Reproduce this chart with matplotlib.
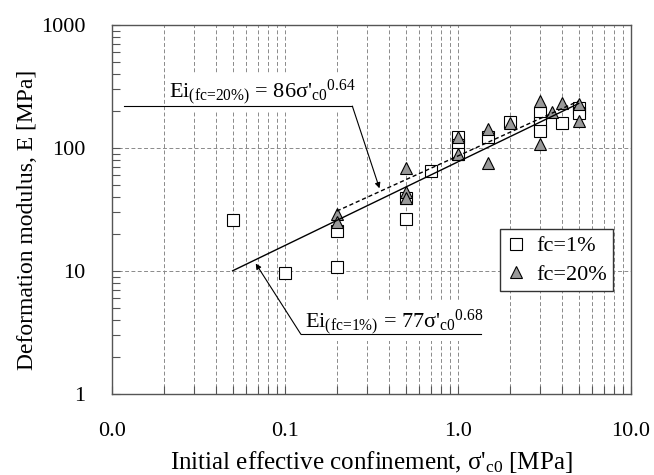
import numpy as np
import matplotlib
matplotlib.use('Agg')
import matplotlib.pyplot as plt
from matplotlib.ticker import LogLocator, NullFormatter, FixedLocator, FixedFormatter

plt.rcParams['font.family'] = ['Liberation Serif', 'DejaVu Serif']
plt.rcParams['mathtext.fontset'] = 'custom'
plt.rcParams['mathtext.rm'] = 'Liberation Serif'
plt.rcParams['mathtext.it'] = 'Liberation Serif:italic'
plt.rcParams['mathtext.bf'] = 'Liberation Serif:bold'

# ---- data ----
x_fc1 = [0.05, 0.1, 0.2, 0.2, 0.5, 0.5, 0.7, 1, 1, 1, 1.5, 2, 3, 3, 3, 4, 5, 5]
y_fc1 = [26, 9.7, 21, 10.8, 39, 26.5, 65, 123, 106, 89, 123, 163, 193, 160, 137, 160, 211, 193]
x_fc20 = [0.2, 0.2, 0.5, 0.5, 0.5, 1, 1, 1.5, 1.5, 2, 3, 3, 3.5, 4, 5, 5]
y_fc20 = [29, 25, 69, 44, 39, 123, 89, 142, 75, 160, 243, 108, 195, 231, 228, 165]

# power-law fits: coefficient, exponent, x range
fit_fc1 = dict(a=77, b=0.68, xmin=0.05, xmax=5)
fit_fc20 = dict(a=86, b=0.64, xmin=0.2, xmax=5)

xtick_vals = [0.01, 0.1, 1, 10]
xtick_labels = ['0.0', '0.1', '1.0', '10.0']
ytick_vals = [1, 10, 100, 1000]
ytick_labels = ['1', '10', '100', '1000']

FS = 16

fig = plt.figure(figsize=(6.54, 4.75), dpi=100)
ax = fig.add_axes([0.1708, 0.1705, 0.7936, 0.7769])
ax.set_xscale('log')
ax.set_yscale('log')
ax.set_xlim(0.01, 10)
ax.set_ylim(1, 1000)

ax.xaxis.set_major_locator(FixedLocator(xtick_vals))
ax.xaxis.set_major_formatter(FixedFormatter(xtick_labels))
ax.xaxis.set_minor_locator(LogLocator(base=10, subs=np.arange(2, 10)))
ax.xaxis.set_minor_formatter(NullFormatter())
ax.yaxis.set_major_locator(FixedLocator(ytick_vals))
ax.yaxis.set_major_formatter(FixedFormatter(ytick_labels))
ax.yaxis.set_minor_locator(LogLocator(base=10, subs=np.arange(2, 10)))
ax.yaxis.set_minor_formatter(NullFormatter())

ax.tick_params(which='both', direction='in', top=False, right=False,
               color='#555555', width=0.8)
ax.tick_params(which='major', length=6, labelsize=FS)
ax.tick_params(which='minor', length=6)
ax.tick_params(axis='x', which='major', pad=20)
ax.tick_params(axis='y', which='major', pad=19)

grid_kw = dict(color='#8a8a8a', linestyle=(0, (4, 2.5)), linewidth=0.7)
ax.grid(True, which='major', axis='both', **grid_kw)
ax.grid(True, which='minor', axis='x', **grid_kw)
ax.set_axisbelow(True)

for s in ax.spines.values():
    s.set_color('#555555')
    s.set_linewidth(1.0)

# fit lines
for fit, ls in ((fit_fc1, '-'), (fit_fc20, (0, (3, 2)))):
    xs = np.geomspace(fit['xmin'], fit['xmax'], 60)
    ax.plot(xs, fit['a'] * xs ** fit['b'], color='black', lw=1.0, ls=ls, zorder=4)

# data
ax.plot(x_fc1, y_fc1, ls='none', marker='s', ms=8, mfc='white', mec='black',
        mew=0.8, label='fc=1%', zorder=3)
ax.plot(x_fc20, y_fc20, ls='none', marker='^', ms=8.5, mfc='#999999', mec='black',
        mew=0.8, label='fc=20%', zorder=3.5)

# annotations
bbox = dict(facecolor='white', edgecolor='none', pad=3)
ax.text(0.0214, 260, r"Ei$_{\text{(fc=20%)}}$ = 86σ'$_{\mathrm{c0}}$$^{\mathrm{0.64}}$",
        fontsize=FS, ha='left', va='baseline', bbox=bbox, zorder=2)
ax.plot([0.01175, 0.246], [219, 219], color='black', lw=0.8, zorder=5)
ax.annotate('', xy=(0.353, 47), xytext=(0.246, 219),
            arrowprops=dict(arrowstyle='-|>', color='black', lw=0.8,
                            mutation_scale=8, shrinkA=0, shrinkB=0), zorder=5)

ax.text(0.1315, 3.52, r"Ei$_{\text{(fc=1%)}}$ = 77σ'$_{\mathrm{c0}}$$^{\mathrm{0.68}}$",
        fontsize=FS, ha='left', va='baseline', bbox=bbox, zorder=2)
ax.plot([0.124, 1.365], [3.06, 3.06], color='black', lw=0.8, zorder=5)
ax.annotate('', xy=(0.068, 11.5), xytext=(0.124, 3.06),
            arrowprops=dict(arrowstyle='-|>', color='black', lw=0.8,
                            mutation_scale=8, shrinkA=0, shrinkB=0), zorder=5)

leg = ax.legend(loc='upper left', bbox_to_anchor=(0.749, 0.447), fontsize=FS,
                frameon=True, fancybox=False, edgecolor='#333333', framealpha=1,
                handlelength=0.8, handletextpad=0.5, borderpad=0.3,
                labelspacing=0.35, borderaxespad=0)
leg.get_frame().set_linewidth(1.0)

ax.set_xlabel("Initial effective confinement, σ'$_{\mathrm{c0}}$ [MPa]", fontsize=18)
ax.set_ylabel("Deformation modulus, E [MPa]", fontsize=17)
ax.xaxis.set_label_coords(0.5, -0.184)
ax.xaxis.label.set_va('center')
ax.yaxis.set_label_coords(-0.163, 0.473)
ax.yaxis.label.set_va('center')

fig.savefig('out.png', dpi=100)
